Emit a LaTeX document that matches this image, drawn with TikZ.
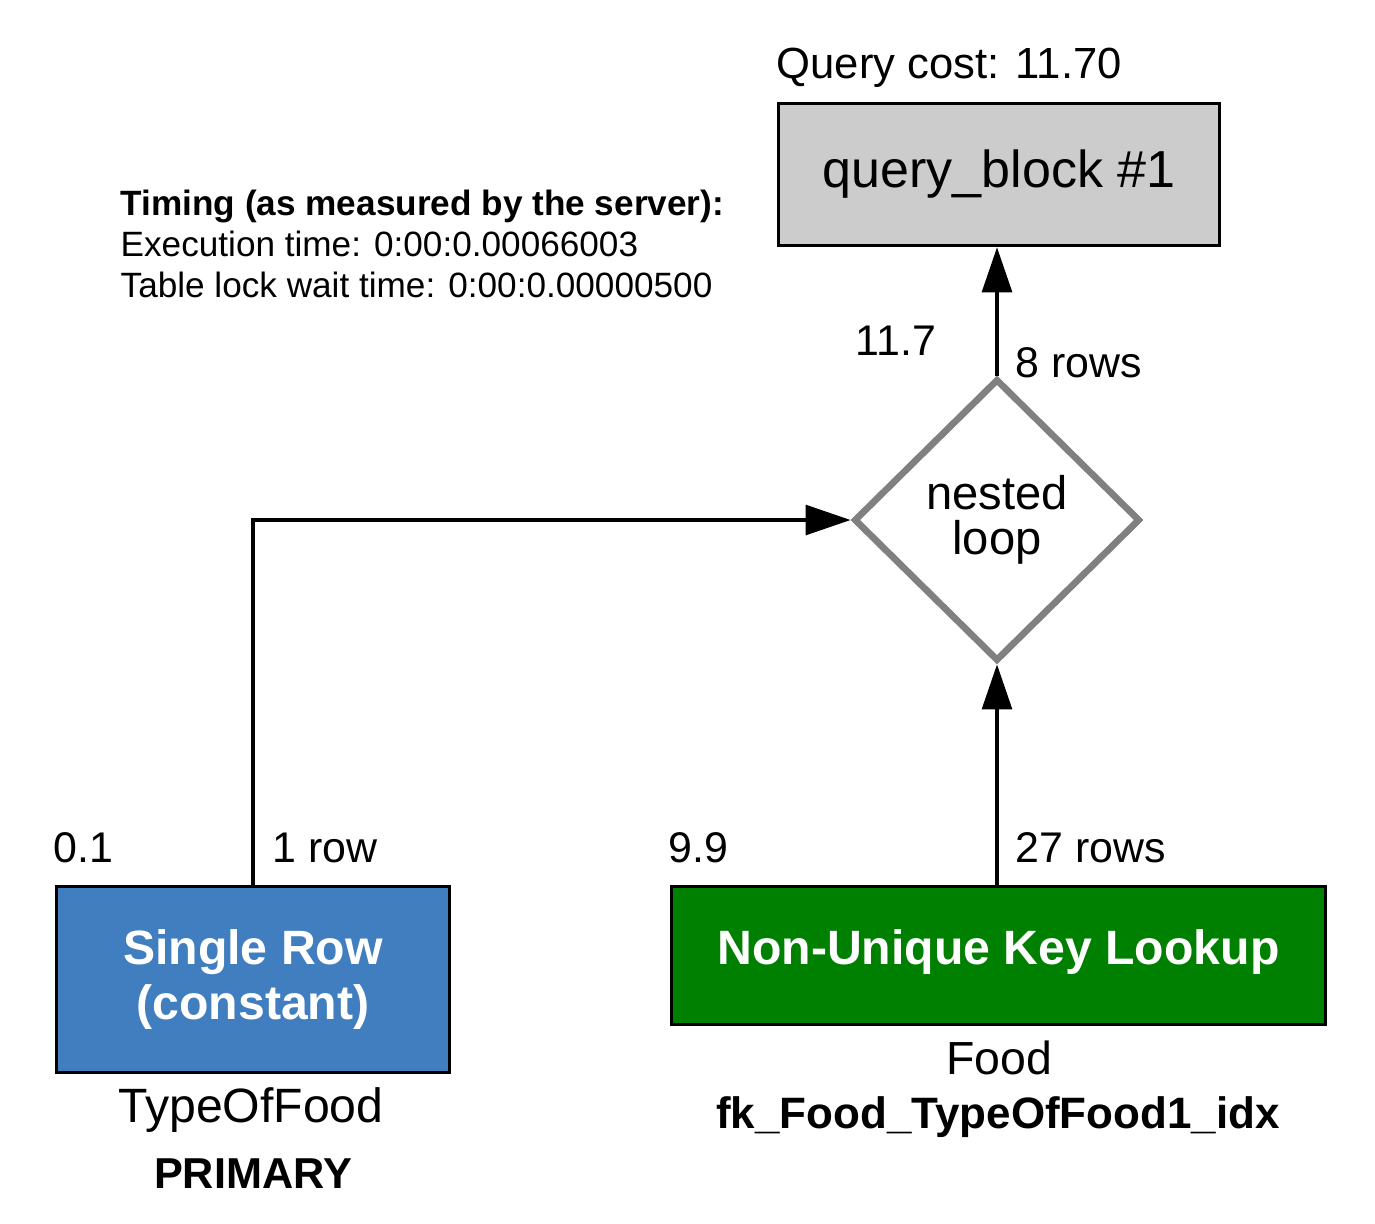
\documentclass[tikz,border=0pt]{standalone}
\usepackage{fontspec}
\setmainfont{Liberation Sans}
\usetikzlibrary{shapes.geometric, positioning, arrows.meta}

\definecolor{blockgray}{HTML}{CCCCCC}
\definecolor{constblue}{RGB}{64,126,192}
\definecolor{refgreen}{RGB}{0,128,0}
\definecolor{loopgray}{HTML}{808080}

\begin{document}
\begin{tikzpicture}[x=0.01cm, y=-0.01cm,
    box/.style={draw=black, line width=1pt, rectangle, inner sep=0pt, align=center},
    optext/.style={text=white, font=\fontsize{13.7}{15.6}\selectfont\bfseries},
    lbl/.style={font=\fontsize{12.2}{14}\selectfont, inner sep=0pt},
    flow/.style={-{Triangle[length=12.8pt, width=8.5pt]}, line width=0.95pt}]
                \useasboundingbox[fill=white] (0,0) rectangle (1375,1223);

                \node[box, fill=blockgray, minimum width=4.41cm, minimum height=1.42cm,
                      font=\fontsize{14.8}{17}\selectfont] (qb) at (999,174.5) {query\_block \#1};
                \node[lbl, font=\fontsize{12.4}{14}\selectfont, anchor=base west] (cost) at (776,78) {Query cost: 11.70};

                \node[diamond, draw=loopgray, line width=1.9pt, fill=white, inner sep=0pt,
                      minimum width=2.86cm, minimum height=2.82cm, align=center,
                      font=\fontsize{13.4}{12.8}\selectfont] (nl) at (997,520) {nested\\loop};

                \node[box, fill=constblue, optext, minimum width=3.93cm, minimum height=1.86cm] (sr) at (253,979.5) {Single Row\\(constant)};
                \node[box, fill=refgreen, optext, minimum width=6.54cm, minimum height=1.38cm] (nuk) at (998.5,955.5) {\raisebox{1.6mm}{Non-Unique Key Lookup}};

                \node[lbl, font=\fontsize{13.7}{16}\selectfont, anchor=base] (tof) at (251,1122) {TypeOfFood};
                \node[lbl, font=\fontsize{12.3}{14}\selectfont\bfseries, anchor=base] (pk) at (253,1188) {PRIMARY};
                \node[lbl, font=\fontsize{13.2}{16}\selectfont, anchor=base] (food) at (999,1074) {Food};
                \node[lbl, font=\fontsize{12.5}{14}\selectfont\bfseries, anchor=base] (fk) at (998,1128) {fk\_Food\_TypeOfFood1\_idx};

                \node[lbl, anchor=base west, align=left, font=\fontsize{10}{11.6}\selectfont] (timing) at (120,297)
                    {\textbf{Timing (as measured by the server):}\\
                     Execution time: 0:00:0.00066003\\
                     Table lock wait time: 0:00:0.00000500};

                \draw[flow] (nl.north) -- (nl.north |- qb.south);
                \draw[flow] (nuk.north -| nl.south) -- (nl.south);
                \draw[flow] (sr.north) |- (nl.west);

                \node[lbl, anchor=base west] (c0) at (855,355) {11.7};
                \node[lbl, anchor=base west] (r0) at (1015,377) {8 rows};
                \node[lbl, anchor=base west] (c1) at (53,862) {0.1};
                \node[lbl, anchor=base west] (r1) at (272,862) {1 row};
                \node[lbl, anchor=base west] (c2) at (668,862) {9.9};
                \node[lbl, anchor=base west] (r2) at (1015,862) {27 rows};

            \end{tikzpicture}
\end{document}
